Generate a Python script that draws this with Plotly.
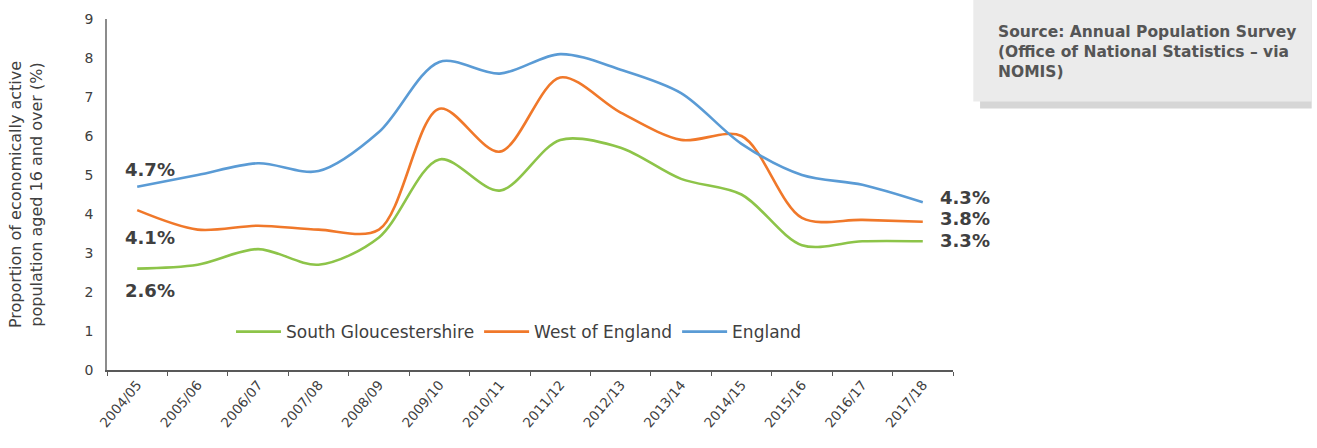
import plotly.graph_objects as go

# Financial years on the category axis
years = ["2004/05", "2005/06", "2006/07", "2007/08", "2008/09", "2009/10", "2010/11",
         "2011/12", "2012/13", "2013/14", "2014/15", "2015/16", "2016/17", "2017/18"]

# Unemployment rate (%) of economically active population aged 16+
south_glos = [2.6, 2.7, 3.1, 2.7, 3.4, 5.4, 4.6, 5.9, 5.7, 4.9, 4.5, 3.2, 3.3, 3.3]
west_of_england = [4.1, 3.6, 3.7, 3.6, 3.6, 6.7, 5.6, 7.5, 6.6, 5.9, 6.0, 3.9, 3.85, 3.8]
england = [4.7, 5.0, 5.3, 5.1, 6.1, 7.9, 7.6, 8.1, 7.7, 7.1, 5.8, 5.0, 4.75, 4.3]

series_names = ["South Gloucestershire", "West of England", "England"]
series_values = [south_glos, west_of_england, england]
series_colors = ["#8DC449", "#F0782A", "#5A9BD5"]

y_ticks = list(range(0, 10))

FONT = "DejaVu Sans"
TEXT = "#404040"

fig = go.Figure()
for name, vals, col in zip(series_names, series_values, series_colors):
    fig.add_trace(go.Scatter(
        x=years, y=vals, name=name, mode="lines",
        line=dict(color=col, width=2.6, shape="spline", smoothing=0.9),
        hoverinfo="x+y+name",
    ))

# Start / end value labels
start_shifts = [-22, -27, 17]
end_shifts = [1, 3, 5]
for vals, ys, ye in zip(series_values, start_shifts, end_shifts):
    fig.add_annotation(x=years[0], y=vals[0], text=f"{vals[0]:.1f}%", showarrow=False,
                       xanchor="left", xshift=-14, yshift=ys,
                       font=dict(family=FONT, size=18, color=TEXT, weight="bold"))
    fig.add_annotation(x=years[-1], y=vals[-1], text=f"{vals[-1]:.1f}%", showarrow=False,
                       xanchor="left", xshift=15, yshift=ye,
                       font=dict(family=FONT, size=18, color=TEXT, weight="bold"))

# Source box (with a soft shadow underneath)
fig.add_shape(type="rect", xref="paper", yref="paper",
              x0=1.032, x1=1.424, y0=0.745, y1=1.06,
              fillcolor="#d6d6d6", line=dict(width=0), layer="below")
fig.add_shape(type="rect", xref="paper", yref="paper",
              x0=1.024, x1=1.424, y0=0.765, y1=1.06,
              fillcolor="#ebebeb", line=dict(width=0), layer="below")
fig.add_annotation(xref="paper", yref="paper", x=1.051, y=0.995,
                   xanchor="left", yanchor="top", align="left", showarrow=False,
                   text="Source: Annual Population Survey<br>(Office of National Statistics – via<br>NOMIS)",
                   font=dict(family=FONT, size=15.5, color="#555555", weight="bold"))

fig.update_layout(
    width=1317, height=448,
    margin=dict(l=107, r=364, t=19, b=78),
    paper_bgcolor="white", plot_bgcolor="white",
    font=dict(family=FONT, color=TEXT),
    showlegend=True,
    legend=dict(orientation="h", x=0.487, xanchor="center", y=0.108, yanchor="middle",
                font=dict(family=FONT, size=17, color=TEXT),
                bgcolor="rgba(0,0,0,0)", itemwidth=45, tracegroupgap=0),
    xaxis=dict(
        type="category", range=[-0.5, len(years) - 0.5],
        showline=True, linecolor="#595959", linewidth=1.5,
        ticks="outside", tickson="boundaries", ticklen=4, tickcolor="#595959",
        tickangle=-50, tickfont=dict(family=FONT, size=13.5, color=TEXT),
        showgrid=False, zeroline=False,
    ),
    yaxis=dict(
        range=[0, 9], tickvals=y_ticks, ticktext=[str(v) for v in y_ticks],
        showline=True, linecolor="#8c8c8c", linewidth=1.5,
        ticks="", tickfont=dict(family=FONT, size=14, color=TEXT),
        ticklabelstandoff=9,
        showgrid=False, zeroline=False,
        title=dict(text="Proportion of economically active<br>population aged 16 and over (%)",
                   font=dict(family=FONT, size=16, color=TEXT), standoff=38),
    ),
)

fig.write_html("out.html")
